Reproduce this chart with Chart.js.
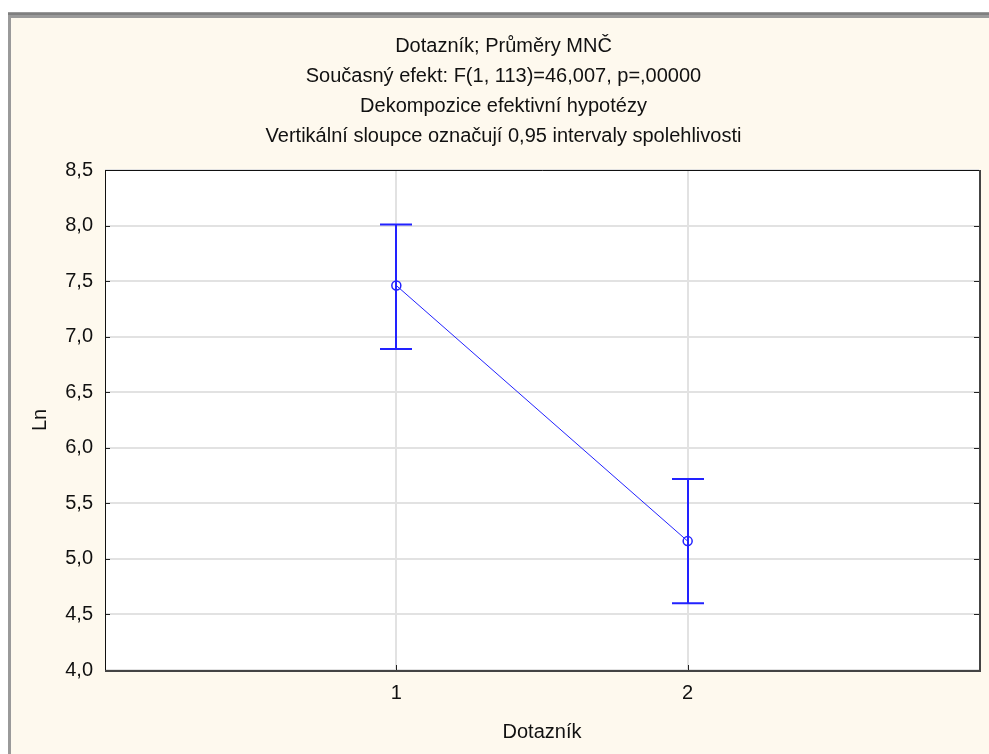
<!DOCTYPE html>
<html>
<head>
<meta charset="utf-8">
<title>Dotazník; Průměry MNČ</title>
<script src="https://cdn.jsdelivr.net/npm/chart.js@4.4.1/dist/chart.umd.min.js"></script>
<style>
	body { margin: 0; background: #fff; }
	canvas { display: block; }
</style>
</head>
<body>
<canvas id="meansChart" width="989" height="754"></canvas>
<script>
var categories = [1, 2];
var means = [7.46, 5.16];
var lowerCI = [6.89, 4.60];
var upperCI = [8.01, 5.72];
var titleLines = [
	'Dotazník; Průměry MNČ',
	'Současný efekt: F(1, 113)=46,007, p=,00000',
	'Dekompozice efektivní hypotézy',
	'Vertikální sloupce označují 0,95 intervaly spolehlivosti'
];
var xTitle = 'Dotazník';
var yTitle = 'Ln';
var yMin = 4.0, yMax = 8.5, yStep = 0.5;

var blue = '#2222ff';
var fontFamily = '"Liberation Sans", Arial, sans-serif';

// window frame + cream background
var backgroundPlugin = {
	id: 'background',
	beforeDraw: function(chart) {
		var c = chart.ctx;
		c.save();
		c.fillStyle = '#ffffff';
		c.fillRect(0, 0, chart.width, chart.height);
		c.fillStyle = '#9a9a9a';
		c.fillRect(8, 12, chart.width - 8, 6);
		c.fillRect(8, 12, 3, chart.height - 12);
		c.fillStyle = '#7f7f7f';
		c.fillRect(8, 13, chart.width - 8, 2);
		c.fillStyle = '#fef9ee';
		c.fillRect(11, 18, chart.width - 11, chart.height - 18);
		var a = chart.chartArea;
		c.fillStyle = '#ffffff';
		c.fillRect(a.left, a.top, a.right - a.left, a.bottom - a.top);
		c.restore();
	}
};

// plot frame with inner tick marks
var framePlugin = {
	id: 'frame',
	afterDatasetsDraw: function(chart) {
		var c = chart.ctx;
		var a = chart.chartArea;
		var x = chart.scales.x, y = chart.scales.y;
		c.save();
		c.strokeStyle = '#222';
		c.lineWidth = 1;
		y.ticks.forEach(function(t) {
			var py = Math.round(y.getPixelForValue(t.value)) + 0.5;
			c.beginPath();
			c.moveTo(a.left, py); c.lineTo(a.left + 5, py);
			c.moveTo(a.right - 5, py); c.lineTo(a.right, py);
			c.stroke();
		});
		x.ticks.forEach(function(t) {
			var px = Math.round(x.getPixelForValue(t.value)) + 0.5;
			c.beginPath();
			c.moveTo(px, a.bottom); c.lineTo(px, a.bottom - 5);
			c.stroke();
		});
		c.strokeStyle = '#111';
		c.beginPath();
		c.moveTo(a.left + 0.5, a.bottom);
		c.lineTo(a.left + 0.5, a.top + 0.5);
		c.lineTo(a.right, a.top + 0.5);
		c.stroke();
		c.strokeStyle = '#444';
		c.lineWidth = 2;
		c.beginPath();
		c.moveTo(a.right + 1, a.top);
		c.lineTo(a.right + 1, a.bottom + 1);
		c.lineTo(a.left, a.bottom + 1);
		c.stroke();
		c.restore();
	}
};

// vertical confidence interval bars
var errorBarPlugin = {
	id: 'errorBars',
	beforeDatasetsDraw: function(chart) {
		var c = chart.ctx;
		var x = chart.scales.x, y = chart.scales.y;
		c.save();
		c.strokeStyle = blue;
		c.lineWidth = 2;
		categories.forEach(function(cat, i) {
			var px = Math.round(x.getPixelForValue(cat));
			var top = y.getPixelForValue(upperCI[i]);
			var bot = y.getPixelForValue(lowerCI[i]);
			c.beginPath();
			c.moveTo(px, top); c.lineTo(px, bot);
			c.moveTo(px - 16, top); c.lineTo(px + 16, top);
			c.moveTo(px - 16, bot); c.lineTo(px + 16, bot);
			c.stroke();
		});
		c.restore();
	}
};

var ctx = document.getElementById('meansChart').getContext('2d');
var meansChart = new Chart(ctx, {
	type: 'line',
	data: {
		datasets: [{
			data: categories.map(function(cat, i) { return { x: cat, y: means[i] }; }),
			borderColor: blue,
			borderWidth: 1,
			pointRadius: 4.5,
			pointBorderWidth: 1.5,
			pointBorderColor: blue,
			pointBackgroundColor: 'rgba(0,0,0,0)',
			tension: 0
		}]
	},
	options: {
		responsive: false,
		animation: false,
		layout: { padding: { left: 28, right: 10, top: 0, bottom: 0 } },
		plugins: {
			legend: { display: false },
			tooltip: { enabled: false },
			title: {
				display: true,
				text: titleLines,
				color: '#111',
				font: { family: fontFamily, size: 20, weight: 'normal', lineHeight: '30px' },
				padding: { top: 31, bottom: 19 }
			}
		},
		scales: {
			x: {
				type: 'linear',
				min: 0,
				max: 3,
				afterBuildTicks: function(scale) {
					scale.ticks = categories.map(function(v) { return { value: v }; });
				},
				afterFit: function(scale) { scale.height = 84; },
				grid: { color: '#e2e2e2', lineWidth: 2, drawTicks: false },
				border: { display: false },
				ticks: {
					padding: 11,
					color: '#111',
					font: { family: fontFamily, size: 20 },
					callback: function(v) { return String(v); }
				},
				title: {
					display: true,
					text: xTitle,
					color: '#111',
					font: { family: fontFamily, size: 20 },
					padding: { top: 0, bottom: 10 }
				}
			},
			y: {
				min: yMin,
				max: yMax,
				afterFit: function(scale) { scale.width = 77; },
				grid: { color: '#e2e2e2', lineWidth: 2, drawTicks: false },
				border: { display: false },
				ticks: {
					stepSize: yStep,
					padding: 12,
					color: '#111',
					font: { family: fontFamily, size: 20 },
					callback: function(v) { return v.toFixed(1).replace('.', ','); }
				},
				title: {
					display: true,
					text: yTitle,
					color: '#111',
					font: { family: fontFamily, size: 20 },
					padding: { top: 0, bottom: 0 }
				}
			}
		}
	},
	plugins: [backgroundPlugin, errorBarPlugin, framePlugin]
});
</script>
</body>
</html>
